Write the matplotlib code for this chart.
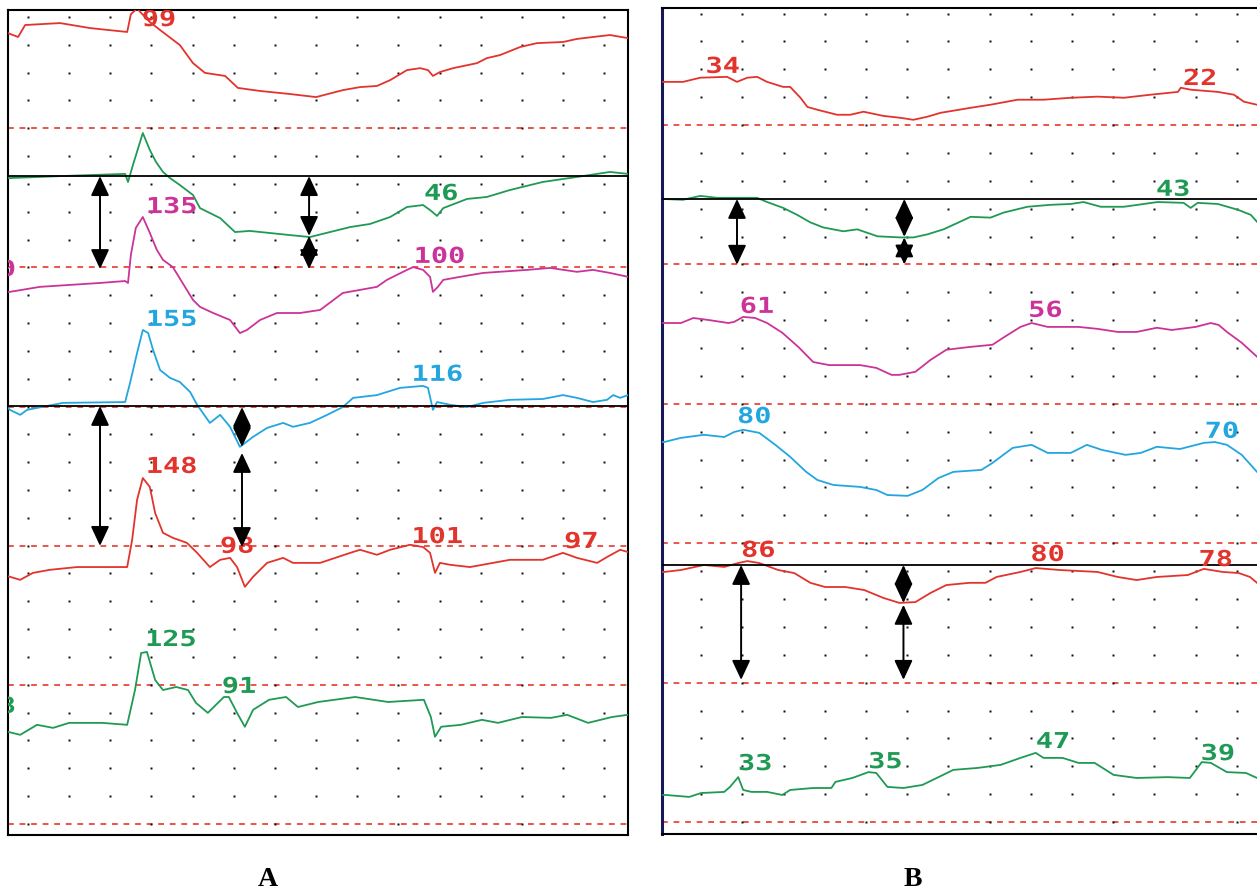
import matplotlib
matplotlib.use("Agg")
import numpy as np
import matplotlib.pyplot as plt
import matplotlib.transforms as mtransforms
from matplotlib.textpath import TextPath
from matplotlib.patches import PathPatch
from matplotlib.font_manager import FontProperties

RED = "#e2342c"
GREEN = "#1f9a55"
MAGENTA = "#cc3399"
CYAN = "#22a6df"
BASELINE = "#e8483c"

# time in chart divisions, amplitude in divisions above the lowest baseline

# ---- panel A ----
a_red1_t = [-0.49, -0.24, -0.07, 0.78, 1.51, 2.41, 2.5, 2.65, 2.96, 3.21, 3.69, 4.01, 4.3, 4.79, 5.1, 5.64, 6.37, 7.0,
            7.65, 8.07, 8.48, 8.8, 9.21, 9.53, 9.72, 9.84, 10.01, 10.33, 10.91, 11.15, 11.47, 11.96, 12.37, 13.0,
            13.34, 13.73, 14.14, 14.58]
a_red1_v = [28.42, 28.28, 28.71, 28.78, 28.6, 28.46, 29.1, 29.3, 28.82, 28.53, 27.99, 27.34, 26.99, 26.88, 26.45,
            26.34, 26.23, 26.12, 26.37, 26.48, 26.52, 26.73, 27.09, 27.16, 27.09, 26.88, 27.02, 27.16, 27.34, 27.52,
            27.63, 27.92, 28.06, 28.1, 28.21, 28.28, 28.35, 28.24]

a_green1_t = [-0.49, -0.44, 0.78, 2.36, 2.43, 2.55, 2.79, 2.96, 3.11, 3.28, 3.45, 3.69, 4.01, 4.18, 4.67, 5.03, 5.39,
              6.37, 6.85, 7.34, 7.83, 8.31, 8.8, 9.21, 9.6, 9.77, 9.94, 10.09, 10.67, 11.15, 11.71, 12.51, 13.34,
              14.14, 14.58]
a_green1_v = [23.21, 23.21, 23.28, 23.36, 23.07, 23.68, 24.83, 24.22, 23.79, 23.43, 23.21, 22.96, 22.6, 22.13,
              21.77, 21.27, 21.31, 21.16, 21.09, 21.27, 21.45, 21.56, 21.81, 22.17, 22.24, 22.06, 21.85, 22.13,
              22.46, 22.53, 22.78, 23.07, 23.25, 23.43, 23.36]

a_mag_t = [-0.49, -0.44, 0.29, 1.02, 1.75, 2.36, 2.43, 2.5, 2.62, 2.79, 2.96, 3.13, 3.28, 3.52, 3.86, 4.01, 4.18,
           4.5, 4.91, 5.15, 5.32, 5.64, 6.05, 6.61, 7.1, 7.65, 8.48, 8.72, 9.21, 9.36, 9.6, 9.77, 9.84, 9.96, 10.09,
           10.5, 11.06, 12.13, 12.69, 13.34, 13.73, 14.14, 14.58]
a_mag_v = [19.12, 19.12, 19.3, 19.37, 19.44, 19.51, 19.44, 20.45, 21.42, 21.81, 21.24, 20.63, 20.27, 20.01, 19.19,
           18.83, 18.58, 18.36, 18.11, 17.64, 17.75, 18.11, 18.36, 18.36, 18.47, 19.08, 19.3, 19.55, 19.91, 20.01,
           19.91, 19.66, 19.12, 19.3, 19.55, 19.66, 19.8, 19.91, 19.98, 19.84, 19.91, 19.8, 19.66]

a_cyan_t = [-0.49, -0.44, -0.19, -0.02, 0.85, 2.36, 2.48, 2.65, 2.79, 2.92, 3.04, 3.21, 3.45, 3.69, 3.94, 4.11,
            4.42, 4.67, 4.91, 5.15, 5.47, 5.81, 6.2, 6.44, 6.85, 7.27, 7.65, 7.9, 8.48, 9.04, 9.6, 9.72, 9.84, 9.94,
            10.26, 10.67, 11.06, 11.71, 12.51, 13.0, 13.34, 13.73, 14.07, 14.22, 14.39, 14.58]
a_cyan_v = [14.95, 14.88, 14.7, 14.88, 15.13, 15.16, 15.85, 16.92, 17.75, 17.64, 17.03, 16.31, 16.03, 15.88, 15.52,
            15.06, 14.41, 14.7, 14.27, 13.55, 13.91, 14.23, 14.41, 14.27, 14.41, 14.7, 14.98, 15.31, 15.41, 15.67,
            15.74, 15.67, 14.88, 15.16, 15.06, 14.98, 15.13, 15.24, 15.27, 15.41, 15.31, 15.16, 15.24, 15.41,
            15.31, 15.41]

a_red2_t = [-0.49, -0.44, -0.19, 0.12, 0.53, 1.19, 2.41, 2.53, 2.65, 2.79, 2.96, 3.09, 3.28, 3.52, 3.86, 4.11, 4.42,
            4.67, 4.91, 5.08, 5.27, 5.47, 5.81, 6.2, 6.44, 7.1, 7.83, 8.07, 8.48, 8.8, 9.28, 9.6, 9.77, 9.89, 10.01,
            10.26, 10.74, 11.71, 12.51, 13.0, 13.34, 13.83, 14.07, 14.39, 14.58]
a_red2_v = [8.9, 8.88, 8.77, 9.02, 9.13, 9.23, 9.23, 10.2, 11.64, 12.43, 12.11, 11.17, 10.46, 10.28, 10.1, 9.74,
            9.23, 9.49, 9.56, 9.23, 8.52, 8.88, 9.38, 9.56, 9.38, 9.38, 9.74, 9.85, 9.67, 9.85, 10.03, 9.95, 9.74,
            9.02, 9.38, 9.31, 9.23, 9.49, 9.49, 9.74, 9.56, 9.38, 9.59, 9.85, 9.77]

a_green2_t = [-0.49, -0.19, 0.22, 0.61, 1.0, 1.8, 2.41, 2.6, 2.75, 2.89, 3.09, 3.28, 3.6, 3.89, 4.08, 4.37, 4.76,
              4.88, 5.08, 5.27, 5.47, 5.86, 6.27, 6.56, 7.05, 7.95, 8.75, 9.62, 9.79, 9.89, 10.04, 10.52, 11.03,
              11.42, 12.0, 12.71, 13.1, 13.61, 14.19, 14.58]
a_green2_v = [3.31, 3.2, 3.56, 3.45, 3.63, 3.63, 3.56, 4.81, 6.14, 6.18, 5.17, 4.81, 4.92, 4.81, 4.35, 3.99, 4.56,
              4.56, 3.99, 3.49, 4.1, 4.46, 4.56, 4.2, 4.38, 4.56, 4.38, 4.46, 3.84, 3.13, 3.49, 3.56, 3.74, 3.63,
              3.84, 3.81, 3.92, 3.63, 3.84, 3.92]

a_label_text = ["99", "135", "46", "100", "155", "116", "148", "98", "101", "97", "125", "91", "0", "8"]
a_label_t = [3.18, 3.5, 10.04, 10.01, 3.5, 9.96, 3.5, 5.08, 9.96, 13.44, 3.48, 5.13, -0.5, -0.5]
a_label_v = [28.96, 22.24, 22.71, 20.45, 18.18, 16.21, 12.9, 10.03, 10.38, 10.2, 6.68, 4.99, 19.98, 4.28]
a_label_color = [RED, MAGENTA, GREEN, MAGENTA, CYAN, CYAN, RED, RED, RED, RED, GREEN, GREEN, MAGENTA, GREEN]

a_ref_levels = [23.28, 15.02]
a_arrow_t = [1.75, 6.83, 6.83, 1.75, 5.2, 5.2]
a_arrow_from = [23.28, 23.28, 21.13, 15.02, 14.98, 13.33]
a_arrow_to = [19.94, 21.13, 19.94, 9.99, 13.55, 9.95]

# ---- panel B ----
b_red1_t = [-0.95, -0.44, -0.02, 0.63, 0.87, 1.12, 1.36, 1.6, 1.99, 2.16, 2.41, 2.58, 2.82, 3.3, 3.62, 3.94, 4.42,
            4.84, 5.15, 5.49, 5.81, 6.54, 7.02, 7.68, 8.31, 8.97, 9.62, 10.26, 10.91, 11.57, 11.64, 11.88, 12.54,
            12.93, 13.17, 13.49]
b_red1_v = [26.55, 26.55, 26.7, 26.73, 26.55, 26.7, 26.73, 26.55, 26.37, 26.37, 25.98, 25.65, 25.55, 25.37, 25.37,
            25.48, 25.33, 25.26, 25.19, 25.3, 25.44, 25.62, 25.73, 25.91, 25.91, 25.98, 26.02, 25.98, 26.09, 26.19,
            26.34, 26.27, 26.19, 26.09, 25.84, 25.73]

b_green1_t = [-0.95, -0.44, -0.02, 0.39, 1.36, 1.6, 1.99, 2.33, 2.65, 2.96, 3.45, 3.79, 4.28, 4.84, 5.15, 5.49,
              5.88, 6.25, 6.54, 7.02, 7.34, 7.92, 8.48, 8.97, 9.28, 9.7, 10.26, 10.74, 11.08, 11.71, 11.88, 12.05,
              12.54, 13.03, 13.34, 13.49]
b_green1_v = [22.35, 22.32, 22.46, 22.39, 22.39, 22.24, 22.03, 21.78, 21.51, 21.33, 21.19, 21.26, 21.01, 20.97,
              20.97, 21.08, 21.26, 21.51, 21.71, 21.68, 21.86, 22.07, 22.14, 22.17, 22.24, 22.07, 22.07, 22.17,
              22.24, 22.21, 22.03, 22.21, 22.17, 21.96, 21.78, 21.53]

b_mag_t = [-0.95, -0.9, -0.49, -0.19, 0.17, 0.66, 0.8, 1.02, 1.31, 1.6, 1.97, 2.36, 2.72, 3.11, 3.86, 4.25, 4.62,
           4.81, 5.2, 5.57, 5.95, 6.51, 7.07, 7.36, 7.75, 8.02, 8.41, 9.16, 9.62, 10.11, 10.57, 11.06, 11.42, 12.0,
           12.37, 12.56, 12.76, 13.12, 13.49]
b_mag_v = [17.9, 17.9, 17.9, 18.08, 18.01, 17.9, 17.94, 18.12, 18.08, 17.9, 17.55, 17.04, 16.5, 16.39, 16.39, 16.29,
           16.04, 16.04, 16.15, 16.58, 16.94, 17.04, 17.12, 17.4, 17.76, 17.9, 17.76, 17.76, 17.69, 17.58, 17.58,
           17.73, 17.65, 17.76, 17.9, 17.83, 17.58, 17.19, 16.69]

b_cyan_t = [-0.95, -0.9, -0.49, 0.07, 0.56, 0.8, 1.02, 1.41, 1.8, 2.16, 2.55, 2.82, 3.21, 3.86, 4.25, 4.52, 5.01,
            5.37, 5.76, 6.12, 6.8, 7.07, 7.56, 8.02, 8.41, 8.97, 9.36, 9.72, 10.3, 10.67, 11.06, 11.62, 12.2, 12.47,
            12.76, 13.12, 13.49]
b_cyan_v = [13.63, 13.63, 13.78, 13.89, 13.81, 13.99, 14.07, 13.96, 13.53, 13.1, 12.56, 12.27, 12.09, 12.02, 11.91,
            11.73, 11.7, 11.91, 12.34, 12.56, 12.63, 12.88, 13.42, 13.53, 13.24, 13.24, 13.53, 13.35, 13.17, 13.24,
            13.46, 13.38, 13.6, 13.63, 13.53, 13.17, 12.56]

b_red2_t = [-0.95, -0.9, -0.49, 0.07, 0.56, 0.9, 1.12, 1.41, 1.87, 2.26, 2.65, 3.01, 3.5, 3.96, 4.42, 4.81, 5.2,
            5.57, 5.95, 6.51, 6.9, 7.17, 7.75, 8.12, 8.7, 9.62, 10.11, 10.57, 11.06, 11.81, 12.2, 12.66, 13.05,
            13.32, 13.49]
b_red2_v = [8.97, 8.97, 9.04, 9.22, 9.15, 9.29, 9.36, 9.29, 9.04, 8.93, 8.58, 8.43, 8.43, 8.32, 8.04, 7.86, 7.89,
            8.22, 8.5, 8.58, 8.58, 8.79, 8.97, 9.11, 9.04, 8.97, 8.79, 8.68, 8.79, 8.86, 9.08, 8.97, 8.93, 8.79, 8.58]

b_green2_t = [-0.95, -0.85, -0.29, 0.0, 0.56, 0.7, 0.9, 1.02, 1.22, 1.6, 1.97, 2.16, 2.72, 3.16, 3.26, 3.67, 4.06,
              4.25, 4.52, 4.91, 5.37, 5.76, 6.12, 6.71, 7.27, 7.75, 8.12, 8.31, 8.77, 9.16, 9.55, 10.01, 10.57,
              11.32, 11.86, 12.15, 12.37, 12.76, 13.22, 13.49]
b_green2_v = [0.97, 0.97, 0.9, 1.04, 1.08, 1.26, 1.61, 1.15, 1.08, 1.08, 0.97, 1.15, 1.22, 1.22, 1.44, 1.58, 1.79,
              1.76, 1.26, 1.22, 1.33, 1.61, 1.87, 1.94, 2.05, 2.3, 2.48, 2.3, 2.3, 2.12, 2.12, 1.69, 1.58, 1.61,
              1.58, 2.15, 2.12, 1.79, 1.76, 1.58]

b_label_text = ["34", "22", "43", "61", "56", "80", "70", "86", "80", "78", "33", "35", "47", "39"]
b_label_t = [0.53, 12.1, 11.45, 1.36, 8.36, 1.29, 12.64, 1.39, 8.41, 12.49, 1.31, 4.47, 8.53, 12.54]
b_label_v = [27.16, 26.73, 22.75, 18.55, 18.41, 14.6, 14.07, 9.8, 9.65, 9.47, 2.15, 2.22, 2.94, 2.51]
b_label_color = [RED, RED, GREEN, MAGENTA, MAGENTA, CYAN, CYAN, RED, RED, RED, GREEN, GREEN, GREEN, GREEN]

b_ref_levels = [22.35, 9.22]
b_arrow_t = [0.87, 4.93, 4.93, 0.97, 4.91, 4.91]
b_arrow_from = [22.35, 22.35, 20.97, 9.22, 9.22, 7.79]
b_arrow_to = [19.99, 20.99, 20.0, 5.1, 7.86, 5.1]

LABEL_FONT = FontProperties(family="DejaVu Sans Mono", weight="bold")


def value_label(ax, t, v, text, color):
    # recorder font is wide and blocky, so stretch the glyphs sideways
    tp = TextPath((0, 0), text, size=22, prop=LABEL_FONT)
    bb = tp.get_extents()
    tr = (mtransforms.Affine2D()
          .translate(-(bb.x0 + bb.x1) / 2, -(bb.y0 + bb.y1) / 2)
          .scale(1.3, 1.0)
          + mtransforms.ScaledTranslation(t, v, ax.transData))
    ax.add_patch(PathPatch(tp, transform=tr, facecolor=color, edgecolor="none", zorder=5))


def draw_panel(ax, traces, labels, refs, arrows, cols, dash_cols, xlim, ylim, left_color):
    ax.set_facecolor("white")
    # dotted grid, dashed baselines every 5 divisions
    rows = [r for r in range(1, 30) if r % 5]
    gx, gy = np.meshgrid(cols, rows)
    ax.plot(gx.ravel(), gy.ravel(), ls="none", marker="s", ms=1.7, mec="none", mfc="#111111", zorder=1)
    for lev in range(0, 30, 5):
        ax.axhline(lev, color=BASELINE, lw=1.3, dashes=(3.2, 3.2), zorder=2)
        ax.plot(dash_cols, [lev] * len(dash_cols), ls="none", marker="s", ms=1.7, mec="none",
                mfc="#111111", zorder=2.5)

    for t, v, c in traces:
        ax.plot(t, v, color=c, lw=1.3, zorder=3)

    for lev in refs:
        ax.axhline(lev, color="black", lw=1.3, zorder=4)

    for t, y0, y1 in zip(*arrows):
        ax.annotate("", xy=(t, y1), xytext=(t, y0),
                    arrowprops=dict(arrowstyle="<|-|>,head_length=0.6,head_width=0.28",
                                    color="black", lw=1.4, mutation_scale=20, shrinkA=0, shrinkB=0),
                    zorder=6)

    for text, t, v, c in zip(*labels):
        value_label(ax, t, v, text, c)

    ax.set_xlim(*xlim)
    ax.set_ylim(*ylim)
    ax.set_xticks([])
    ax.set_yticks([])
    for side in ax.spines.values():
        side.set_color("black")
        side.set_linewidth(1.5)
    ax.spines["left"].set_color(left_color)


fig = plt.figure(figsize=(12.57, 8.92), dpi=100)
fig.patch.set_facecolor("white")

ax_a = fig.add_axes([8 / 1257, 57 / 892, 620 / 1257, 825 / 892])
draw_panel(
    ax_a,
    [(a_red1_t, a_red1_v, RED), (a_green1_t, a_green1_v, GREEN), (a_mag_t, a_mag_v, MAGENTA),
     (a_cyan_t, a_cyan_v, CYAN), (a_red2_t, a_red2_v, RED), (a_green2_t, a_green2_v, GREEN)],
    (a_label_text, a_label_t, a_label_v, a_label_color),
    a_ref_levels,
    (a_arrow_t, a_arrow_from, a_arrow_to),
    np.arange(0, 15), np.arange(0, 15, 3),
    (-0.486, 14.58), (-0.4, 29.25), "black",
)

ax_b = fig.add_axes([662 / 1257, 58 / 892, 595 / 1257, 826 / 892])
draw_panel(
    ax_b,
    [(b_red1_t, b_red1_v, RED), (b_green1_t, b_green1_v, GREEN), (b_mag_t, b_mag_v, MAGENTA),
     (b_cyan_t, b_cyan_v, CYAN), (b_red2_t, b_red2_v, RED), (b_green2_t, b_green2_v, GREEN)],
    (b_label_text, b_label_t, b_label_v, b_label_color),
    b_ref_levels,
    (b_arrow_t, b_arrow_from, b_arrow_to),
    np.arange(-1, 14), np.array([-1, 1, 4, 7, 10, 13]),
    (-0.95, 13.49), (-0.43, 29.2), "#16165a",
)
ax_b.spines["right"].set_visible(False)
ax_b.spines["left"].set_linewidth(2.2)

panel_font = dict(family=["Liberation Serif", "DejaVu Serif"], fontweight="bold", fontsize=20,
                  ha="center", va="center")
fig.text(268 / 1257, 1 - 880 / 892, "A", **panel_font)
fig.text(913 / 1257, 1 - 880 / 892, "B", **panel_font)

fig.savefig("out.png", dpi=100, facecolor="white")
